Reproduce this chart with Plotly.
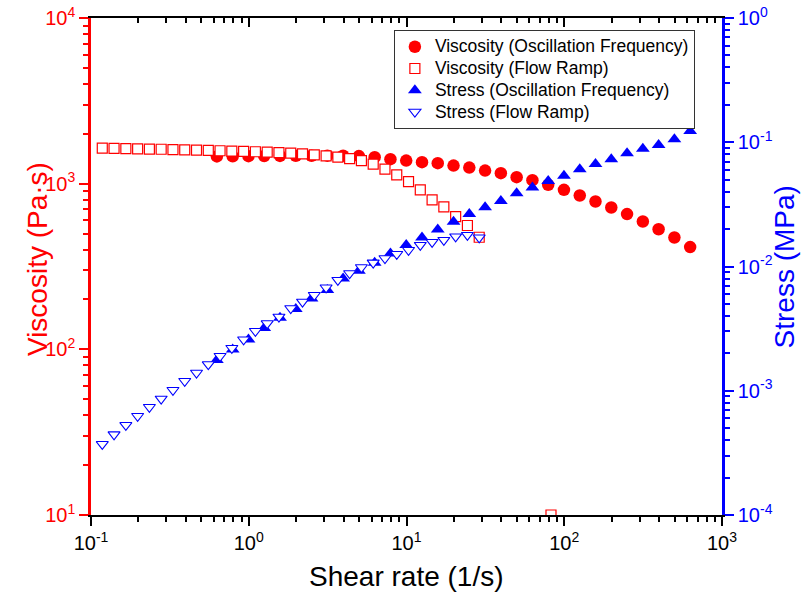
import plotly.graph_objects as go

# ---- data ----
osc_rate = [0.628, 0.791, 0.996, 1.253, 1.578, 1.987, 2.501, 3.149, 3.964, 4.991,
            6.283, 7.910, 9.958, 12.54, 15.78, 19.87, 25.01, 31.49, 39.64, 49.91,
            62.83, 79.10, 99.58, 125.4, 157.8, 198.7, 250.1, 314.9, 396.4, 499.1, 628.3]
osc_viscosity = [1460, 1462, 1465, 1468, 1470, 1472, 1474, 1475, 1475, 1468,
                 1445, 1406, 1379, 1349, 1330, 1286, 1251, 1199, 1157, 1095,
                 1050, 984, 918, 848, 780, 718, 655, 591, 531, 473, 414]
osc_stress = [1.764e-3, 2.150e-3, 2.588e-3, 3.192e-3, 3.864e-3, 4.556e-3, 5.535e-3, 6.480e-3,
              7.991e-3, 9.235e-3, 1.071e-2, 1.275e-2, 1.487e-2, 1.715e-2, 1.989e-2, 2.291e-2,
              2.642e-2, 2.997e-2, 3.374e-2, 3.878e-2, 4.318e-2, 4.870e-2, 5.373e-2, 6.050e-2,
              6.675e-2, 7.282e-2, 8.137e-2, 8.864e-2, 9.495e-2, 0.1055, 0.1231]

flow_rate = [0.1179, 0.1400, 0.1663, 0.1975, 0.2345, 0.2785, 0.3308, 0.3928, 0.4665, 0.5540,
             0.6579, 0.7813, 0.9279, 1.102, 1.309, 1.554, 1.846, 2.192, 2.603, 3.092,
             3.672, 4.360, 5.178, 6.150, 7.303, 8.673, 10.30, 12.23, 14.53, 17.25,
             20.49, 24.33, 28.90]
flow_viscosity = [1639, 1634, 1629, 1622, 1618, 1613, 1607, 1600, 1594, 1587,
                  1580, 1574, 1567, 1558, 1550, 1539, 1528, 1514, 1493, 1472,
                  1445, 1418, 1379, 1312, 1224, 1130, 1030, 918, 799, 724,
                  633, 559, 475]
flow_outlier_rate = [82.4]
flow_outlier_viscosity = [10.0]
flow_stress = [3.715e-4, 4.446e-4, 5.284e-4, 6.245e-4, 7.379e-4, 8.607e-4, 1.011e-3, 1.195e-3,
               1.393e-3, 1.628e-3, 1.900e-3, 2.203e-3, 2.579e-3, 3.019e-3, 3.482e-3, 3.936e-3,
               4.599e-3, 5.197e-3, 5.884e-3, 6.761e-3, 7.773e-3, 8.800e-3, 9.835e-3, 1.071e-2,
               1.162e-2, 1.258e-2, 1.355e-2, 1.487e-2, 1.572e-2, 1.632e-2, 1.741e-2, 1.790e-2,
               1.709e-2]

series_names = ["Viscosity (Oscillation Frequency)", "Viscosity (Flow Ramp)",
                "Stress (Oscillation Frequency)", "Stress (Flow Ramp)"]

x_tickvals = [0.1, 1, 10, 100, 1000]
x_ticktext = ["10<sup>-1</sup>", "10<sup>0</sup>", "10<sup>1</sup>", "10<sup>2</sup>", "10<sup>3</sup>"]
y_tickvals = [10, 100, 1000, 10000]
y_ticktext = ["10<sup>1</sup>", "10<sup>2</sup>", "10<sup>3</sup>", "10<sup>4</sup>"]
y2_tickvals = [1e-4, 1e-3, 1e-2, 1e-1, 1]
y2_ticktext = ["10<sup>-4</sup>", "10<sup>-3</sup>", "10<sup>-2</sup>", "10<sup>-1</sup>", "10<sup>0</sup>"]

x_title = "Shear rate (1/s)"
y_title = "Viscosity (Pa·s)"
y2_title = "Stress (MPa)"

RED = "#FF0000"
BLUE = "#0000FF"
FONT = "Liberation Sans, Arial, sans-serif"
TICK_SIZE = 20


def minor_vals(lo_exp, hi_exp):
    return [m * 10 ** e for e in range(lo_exp, hi_exp) for m in range(2, 10)]


def legend_label(text):
    # larger glyphs while keeping the tighter row spacing of the legend font
    return "<span style='font-size:17.5px'>" + text + "</span>"


fig = go.Figure()
fig.add_trace(go.Scatter(
    x=osc_rate, y=osc_viscosity, mode="markers", name=legend_label(series_names[0]),
    marker=dict(symbol="circle", size=12.5, color=RED, line=dict(width=0)),
    xaxis="x", yaxis="y"))
fig.add_trace(go.Scatter(
    x=flow_rate + flow_outlier_rate, y=flow_viscosity + flow_outlier_viscosity, mode="markers",
    name=legend_label(series_names[1]),
    marker=dict(symbol="square", size=10, color="white", line=dict(width=1.2, color=RED)),
    xaxis="x", yaxis="y"))
fig.add_trace(go.Scatter(
    x=osc_rate, y=osc_stress, mode="markers", name=legend_label(series_names[2]),
    marker=dict(symbol="triangle-up", size=12, color=BLUE, line=dict(width=0)),
    xaxis="x", yaxis="y2"))
fig.add_trace(go.Scatter(
    x=flow_rate, y=flow_stress, mode="markers", name=legend_label(series_names[3]),
    marker=dict(symbol="triangle-down", size=10.5, color="white", line=dict(width=1.1, color=BLUE)),
    xaxis="x", yaxis="y2"))
fig.add_trace(go.Scatter(x=[1], y=[100], mode="markers", marker=dict(opacity=0),
                         showlegend=False, hoverinfo="skip", xaxis="x2", yaxis="y"))

common_minor = dict(tickmode="array", ticklen=5, tickwidth=1.5, showgrid=False)

fig.update_layout(
    width=805, height=595,
    margin=dict(l=91, r=83, t=18, b=80, autoexpand=False),
    plot_bgcolor="white", paper_bgcolor="white",
    font=dict(family=FONT, size=18, color="black"),
    showlegend=True,
    legend=dict(x=0.48, y=0.976, xanchor="left", yanchor="top",
                bgcolor="white", bordercolor="#333333", borderwidth=1,
                font=dict(family=FONT, size=14.4, color="black"),
                tracegroupgap=0),
    xaxis=dict(type="log", range=[-1, 3], showgrid=False, zeroline=False, automargin=False,
               showline=True, linecolor="black", linewidth=2, ticklabeloverflow="allow",
               ticks="outside", ticklen=9, tickwidth=1.5, tickcolor="black",
               tickmode="array", tickvals=x_tickvals, ticktext=x_ticktext,
               tickfont=dict(family=FONT, size=TICK_SIZE, color="black"),
               minor=dict(common_minor, tickvals=minor_vals(-1, 3), ticks="outside",
                          tickcolor="black")),
    xaxis2=dict(type="log", range=[-1, 3], overlaying="x", side="top", anchor="y",
                showgrid=False, zeroline=False, automargin=False,
                showline=True, linecolor="black", linewidth=2,
                ticks="inside", ticklen=9, tickwidth=1.5, tickcolor="black",
                tickmode="array", tickvals=x_tickvals, showticklabels=False,
                minor=dict(common_minor, tickvals=minor_vals(-1, 3), ticks="inside",
                           tickcolor="black")),
    yaxis=dict(type="log", range=[1, 4], showgrid=False, zeroline=False, automargin=False,
               showline=True, linecolor=RED, linewidth=2.5, ticklabeloverflow="allow",
               ticks="outside", ticklen=9, tickwidth=1.5, tickcolor=RED,
               tickmode="array", tickvals=y_tickvals, ticktext=y_ticktext,
               tickfont=dict(family=FONT, size=TICK_SIZE, color=RED),
               minor=dict(common_minor, tickvals=minor_vals(1, 4), ticks="outside",
                          tickcolor=RED)),
    yaxis2=dict(type="log", range=[-4, 0], overlaying="y", side="right", anchor="x",
                showgrid=False, zeroline=False, automargin=False,
                showline=True, linecolor=BLUE, linewidth=2.5, ticklabeloverflow="allow",
                ticks="outside", ticklen=9, tickwidth=1.5, tickcolor=BLUE,
                tickmode="array", tickvals=y2_tickvals, ticktext=y2_ticktext,
                tickfont=dict(family=FONT, size=TICK_SIZE, color=BLUE),
                minor=dict(common_minor, tickvals=minor_vals(-4, 0), ticks="outside",
                           tickcolor=BLUE)),
    annotations=[
        dict(text=x_title, xref="paper", yref="paper", x=0.5, y=-0.1247,
             xanchor="center", yanchor="middle", showarrow=False,
             font=dict(family=FONT, size=28, color="black")),
        dict(text=y_title, xref="paper", yref="paper", x=-0.0856, y=0.515,
             xanchor="center", yanchor="middle", textangle=-90, showarrow=False,
             font=dict(family=FONT, size=28, color=RED)),
        dict(text=y2_title, xref="paper", yref="paper", x=1.0998, y=0.5,
             xanchor="center", yanchor="middle", textangle=-90, showarrow=False,
             font=dict(family=FONT, size=28, color=BLUE)),
    ],
)

# remove the default 8px page margin so the 805x595 figure fills the window exactly
fig.write_html("out.html", config={"displayModeBar": False},
               post_script="document.body.style.margin='0px';")
